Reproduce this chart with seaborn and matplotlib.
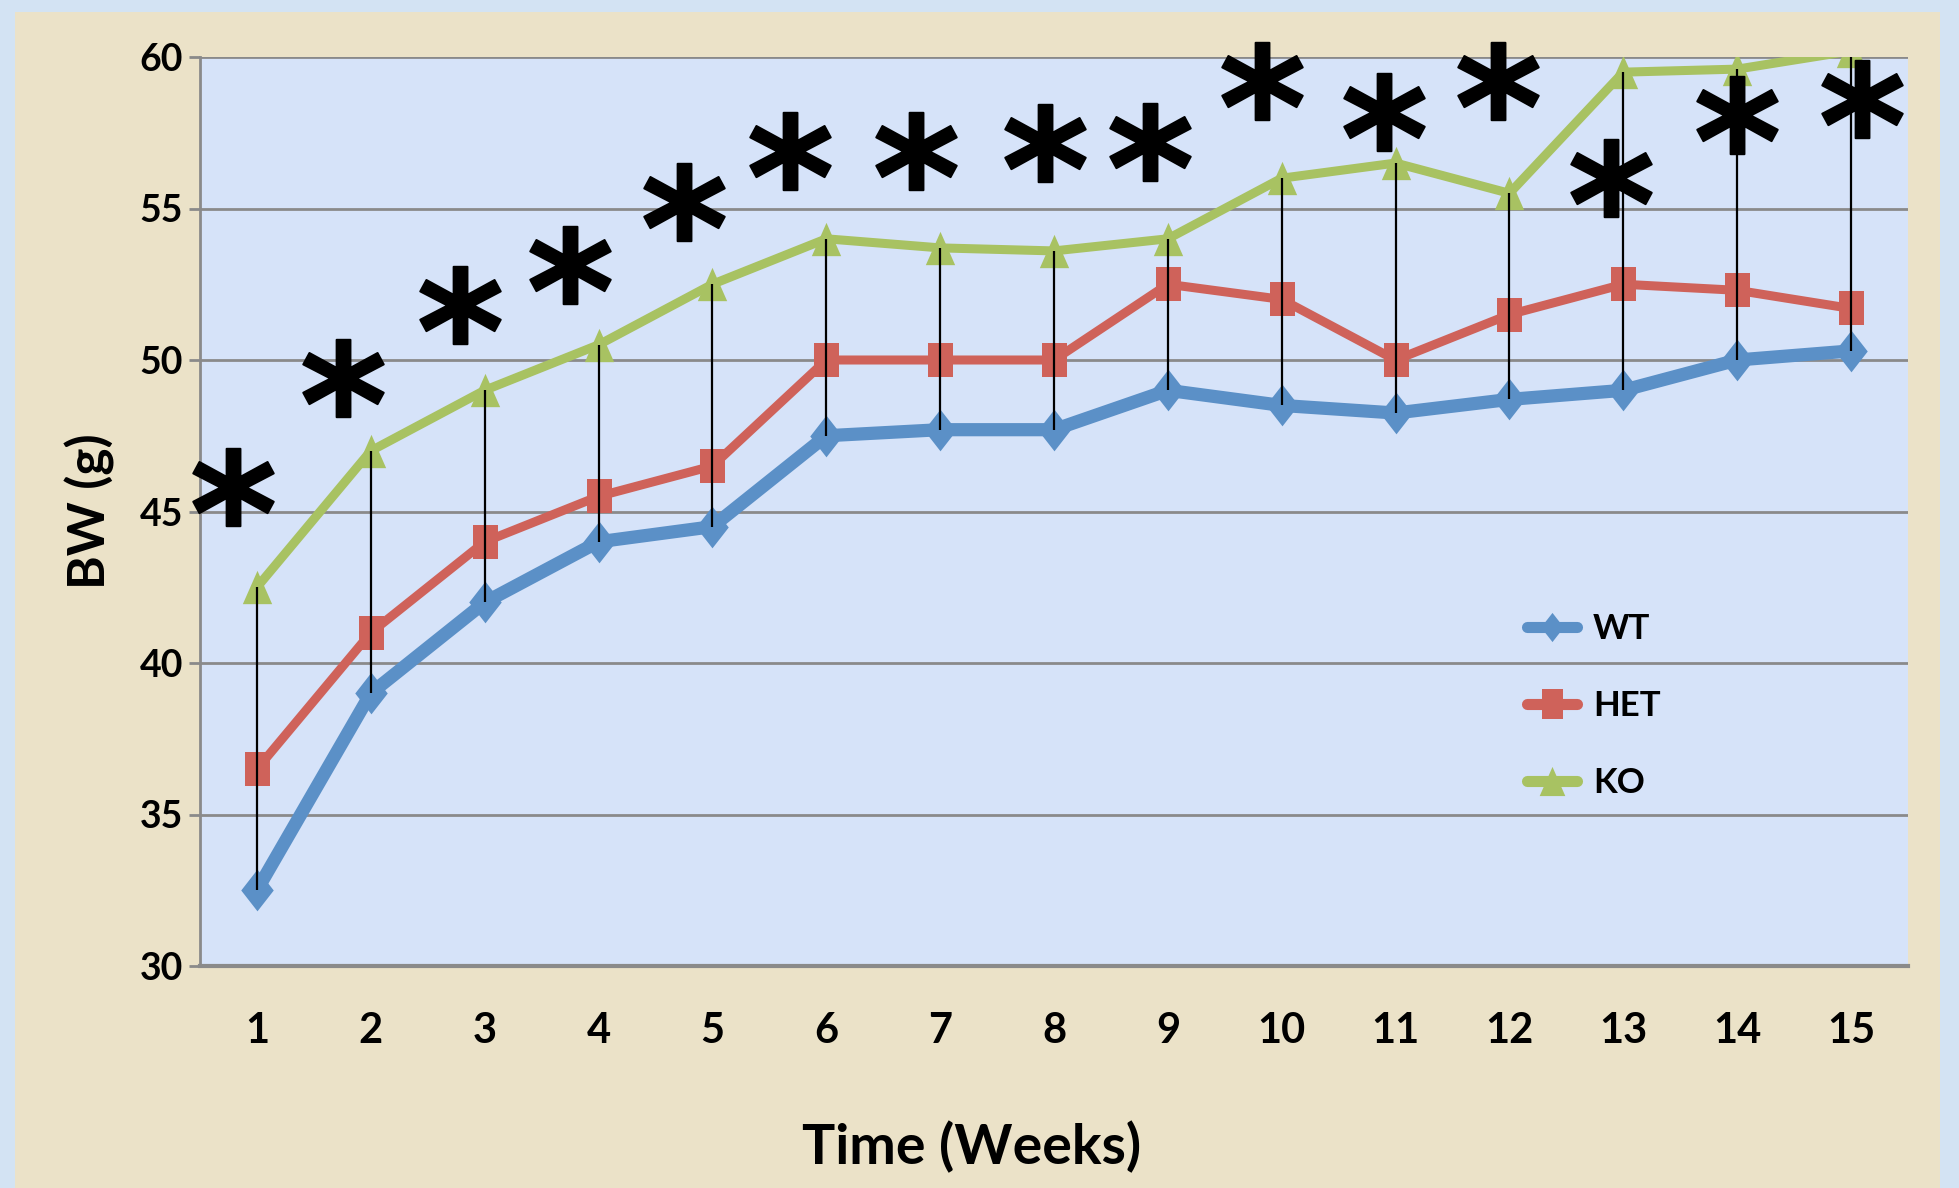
import matplotlib
matplotlib.use("Agg")
import matplotlib.pyplot as plt
import matplotlib.patches as mpatches
import numpy as np
import pandas as pd
import seaborn as sns

# ---------------- data ----------------
weeks = list(range(1, 16))
wt  = [32.5, 39.0, 42.0, 44.0, 44.5, 47.5, 47.7, 47.7, 49.0, 48.5, 48.25, 48.7, 49.0, 50.0, 50.3]
het = [36.5, 41.0, 44.0, 45.5, 46.5, 50.0, 50.0, 50.0, 52.5, 52.0, 50.0, 51.5, 52.5, 52.3, 51.7]
ko  = [42.5, 47.0, 49.0, 50.5, 52.5, 54.0, 53.7, 53.6, 54.0, 56.0, 56.5, 55.5, 59.5, 59.6, 60.2]
series_names = ["WT", "HET", "KO"]
# significance asterisks (x offset from week, y value)
star_dx = [-0.21, -0.24, -0.22, -0.25, -0.25, -0.32, -0.21, -0.08, -0.16, -0.17, -0.10, -0.10, -0.11, 0.0, 0.10]
star_y  = [45.8, 49.4, 51.8, 53.15, 55.2, 56.9, 56.9, 57.15, 57.2, 59.2, 58.2, 59.2, 56.0, 58.1, 58.6]
yticks = [30, 35, 40, 45, 50, 55, 60]

colors = {"WT": "#5b90c7", "HET": "#cf625a", "KO": "#a8c262"}
# slightly tall marker shapes (the original chart is horizontally condensed)
markers = {"WT": [(0, 1), (0.78, 0), (0, -1), (-0.78, 0)],
           "HET": [(-0.72, -1), (0.72, -1), (0.72, 1), (-0.72, 1)],
           "KO": [(-0.88, -1), (0.88, -1), (0, 1)]}
lws = {"WT": 9.5, "HET": 6.5, "KO": 6.5}
msz = {"WT": 30, "HET": 25, "KO": 24}

sns.set_theme(style="white")
fam = ["Lato", "DejaVu Sans"]
plt.rcParams["font.family"] = fam
plt.rcParams["text.color"] = "black"
plt.rcParams["xtick.color"] = "black"
plt.rcParams["ytick.color"] = "black"
plt.rcParams["axes.labelcolor"] = "black"

W, H = 1959, 1188
fig = plt.figure(figsize=(W / 100, H / 100), dpi=100)
fig.patch.set_facecolor("#d3e3f3")
# beige panel
fig.patches.append(mpatches.Rectangle((15 / W, 0), (1940 - 15) / W, (1188 - 12) / H,
                                      transform=fig.transFigure, facecolor="#ebe2c8",
                                      edgecolor="none", zorder=-5))

ax = fig.add_axes([200 / W, 1 - 966 / H, (1908 - 200) / W, (966 - 57) / H])
ax.set_zorder(2)
ax.set_facecolor("#d6e3f9")

df = pd.DataFrame({"Week": weeks * 3,
                   "BW": wt + het + ko,
                   "Group": sum([[n] * len(weeks) for n in series_names], [])})

for name in series_names:
    sub = df[df["Group"] == name]
    n_before = len(ax.lines)
    sns.lineplot(data=sub, x="Week", y="BW", ax=ax, color=colors[name],
                 marker=markers[name], markersize=msz[name], markeredgewidth=0,
                 linewidth=lws[name], label=name, zorder=3, clip_on=True)
    for ln in ax.lines[n_before:]:
        ln.set_linewidth(lws[name])
        ln.set_solid_joinstyle("round")

ax.vlines(weeks, wt, ko, color="black", linewidth=1.6, zorder=4)

sns.scatterplot(x=np.array(weeks) + np.array(star_dx), y=star_y, ax=ax,
                marker=r"$\mathbf{*}$", s=58 ** 2, color="black",
                edgecolor="black", linewidth=1.4, zorder=5, legend=False, clip_on=False)

ax.set_xlim(0.5, 15.5)
ax.set_ylim(30, 60)
ax.set_yticks(yticks)
ax.set_xticks(weeks)
ax.set_xticklabels([str(w) for w in weeks], fontsize=30, fontweight="bold")
ax.set_yticklabels([str(v) for v in yticks], fontsize=27, fontweight="bold")
ax.yaxis.grid(True, color="#8a8a8a", linewidth=2.0)
ax.xaxis.grid(False)
ax.set_axisbelow(True)
for s in ["top", "right"]:
    ax.spines[s].set_visible(False)
ax.spines["left"].set_color("#8a8a8a")
ax.spines["left"].set_linewidth(2.0)
ax.spines["bottom"].set_color("#8a8a8a")
ax.spines["bottom"].set_linewidth(3.0)
ax.tick_params(axis="y", length=8, width=2, color="#8a8a8a", labelcolor="black",
               pad=4, direction="out", left=True)
ax.tick_params(axis="x", length=0, pad=33, labelcolor="black")
ax.set_xlabel("")
ax.set_ylabel("BW (g)", fontsize=37, fontweight="bold", color="black", labelpad=18)

fig.text(972 / W, 1 - 1147 / H, "Time (Weeks)", fontsize=40, fontweight="bold",
         ha="center", va="center", color="black")

leg = ax.legend(loc="center left", bbox_to_anchor=(1527 / W, 1 - 706 / H),
                bbox_transform=fig.transFigure, frameon=False, fontsize=25,
                handlelength=1.45, handletextpad=0.45, labelspacing=1.3,
                borderpad=0, borderaxespad=0)
for t in leg.get_texts():
    t.set_fontweight("bold")
    t.set_color("black")
for h in leg.legend_handles:
    h.set_markersize(21)
    h.set_linewidth(8)
    h.set_solid_capstyle("round")

fig.savefig("out.png", dpi=100, facecolor=fig.get_facecolor())
